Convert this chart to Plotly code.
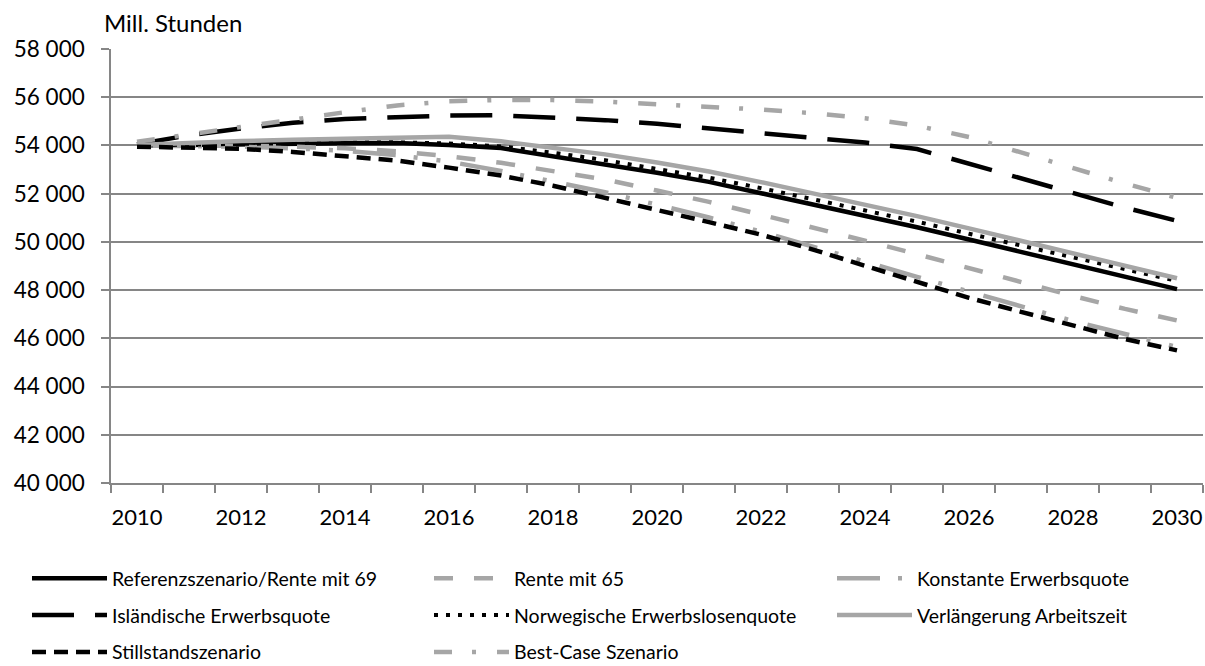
import plotly.graph_objects as go

years = list(range(2010, 2031))
year_labels = [str(y) for y in range(2010, 2031, 2)]

referenz = [54000, 54030, 54060, 54080, 54090, 54100, 54020, 53890, 53560, 53240, 52870,
            52490, 52030, 51560, 51090, 50610, 50100, 49580, 49070, 48560, 48040]
rente65 = [54000, 54000, 53990, 53950, 53880, 53760, 53550, 53280, 52940, 52590, 52130,
           51660, 51130, 50600, 50050, 49490, 48900, 48330, 47760, 47220, 46740]
konstante = [54000, 53980, 53950, 53880, 53780, 53600, 53330, 52940, 52520, 52060, 51540,
             51010, 50430, 49820, 49180, 48550, 47930, 47300, 46720, 46180, 45640]
islaendisch = [54050, 54420, 54700, 54940, 55100, 55190, 55240, 55250, 55150, 55050, 54900,
               54700, 54500, 54300, 54120, 53850, 53250, 52640, 52020, 51420, 50870]
norwegisch = [54000, 54040, 54080, 54110, 54130, 54130, 54080, 53960, 53700, 53390, 53040,
              52660, 52230, 51770, 51310, 50840, 50340, 49840, 49340, 48860, 48380]
verlaengerung = [54020, 54110, 54180, 54240, 54290, 54330, 54360, 54170, 53920, 53630, 53290,
                 52920, 52480, 52020, 51560, 51070, 50560, 50040, 49520, 49010, 48490]
stillstand = [53950, 53910, 53860, 53730, 53560, 53370, 53080, 52750, 52330, 51840, 51310,
              50820, 50300, 49680, 49010, 48330, 47680, 47100, 46520, 45970, 45500]
bestcase = [54150, 54460, 54780, 55070, 55380, 55660, 55830, 55890, 55880, 55820, 55720,
            55590, 55490, 55340, 55130, 54820, 54350, 53710, 53060, 52420, 51830]

BLACK = "#000000"
GRAY = "#a6a6a6"
GRID = "#868686"
FONT = "Lato"

W, H = 1205, 666

series = [
    ("Referenzszenario/Rente mit 69", referenz, BLACK, "solid", 4.5, "legend"),
    ("Rente mit 65", rente65, GRAY, "19px,21px", 4.5, "legend2"),
    ("Konstante Erwerbsquote", konstante, GRAY, "43px,18px,4px,19px,4px,20px", 4.5, "legend3"),
    ("Isländische Erwerbsquote", islaendisch, BLACK, "42px,21px", 4.5, "legend"),
    ("Norwegische Erwerbslosenquote", norwegisch, BLACK, "4px,8px", 4.0, "legend2"),
    ("Verlängerung Arbeitszeit", verlaengerung, GRAY, "solid", 4.5, "legend3"),
    ("Stillstandszenario", stillstand, BLACK, "14px,8px", 4.5, "legend"),
    ("Best-Case Szenario", bestcase, GRAY, "18px,20px,4px,21px", 4.5, "legend2"),
]

fig = go.Figure()
for i, (name, vals, color, dash, width, leg) in enumerate(series):
    fig.add_trace(go.Scatter(
        x=years, y=vals, mode="lines", name=name, legend=leg,
        legendgroup=f"g{i}",
        line=dict(color=color, width=width, dash=dash),
    ))

legend_common = dict(
    orientation="v", xref="container", yref="container",
    xanchor="left", yanchor="top",
    font=dict(family=FONT, size=19.5, color="black"),
    tracegroupgap=8.5, itemwidth=75,
    bgcolor="rgba(0,0,0,0)", borderwidth=0,
)
leg_top = 1 - 559 / H

fig.update_layout(
    width=W, height=H,
    margin=dict(l=111, r=2, t=49, b=183, autoexpand=False),
    paper_bgcolor="white", plot_bgcolor="white",
    separators=", ",
    font=dict(family=FONT, size=22, color="black"),
    showlegend=True,
    legend=dict(x=27 / W, y=leg_top, **legend_common),
    legend2=dict(x=429 / W, y=leg_top, **legend_common),
    legend3=dict(x=832 / W, y=leg_top, **legend_common),
    xaxis=dict(
        range=[2009.5, 2030.5],
        tickmode="array",
        tickvals=[int(t) for t in year_labels],
        ticktext=year_labels,
        ticks="",
        ticklabelstandoff=14,
        showgrid=False,
        showline=True, linecolor=GRID, linewidth=1.5,
        tickfont=dict(family=FONT, size=22, color="black"),
        minor=dict(
            tickmode="array",
            tickvals=[y - 0.5 for y in years] + [years[-1] + 0.5],
            ticks="outside", ticklen=8, tickwidth=1.5, tickcolor=GRID,
            showgrid=False,
        ),
        zeroline=False, fixedrange=True,
    ),
    yaxis=dict(
        range=[40000, 58000], dtick=2000, tick0=40000,
        tickformat=",d",
        showgrid=True, gridcolor=GRID, gridwidth=1.5,
        showline=True, linecolor=GRID, linewidth=1.5,
        ticks="outside", ticklen=8, tickwidth=1.5, tickcolor=GRID,
        tickfont=dict(family=FONT, size=22.5, color="black"),
        ticklabelstandoff=12,
        zeroline=False, fixedrange=True,
    ),
    annotations=[dict(
        text="Mill. Stunden", xref="paper", yref="paper", x=0, y=1,
        xanchor="left", yanchor="bottom", xshift=-9, yshift=10,
        showarrow=False, font=dict(family=FONT, size=24, color="black"),
    )],
)

fig.write_html(
    "out.html",
    config={"displayModeBar": False},
    post_script="document.body.style.margin='0px';document.body.style.overflow='hidden';",
)
